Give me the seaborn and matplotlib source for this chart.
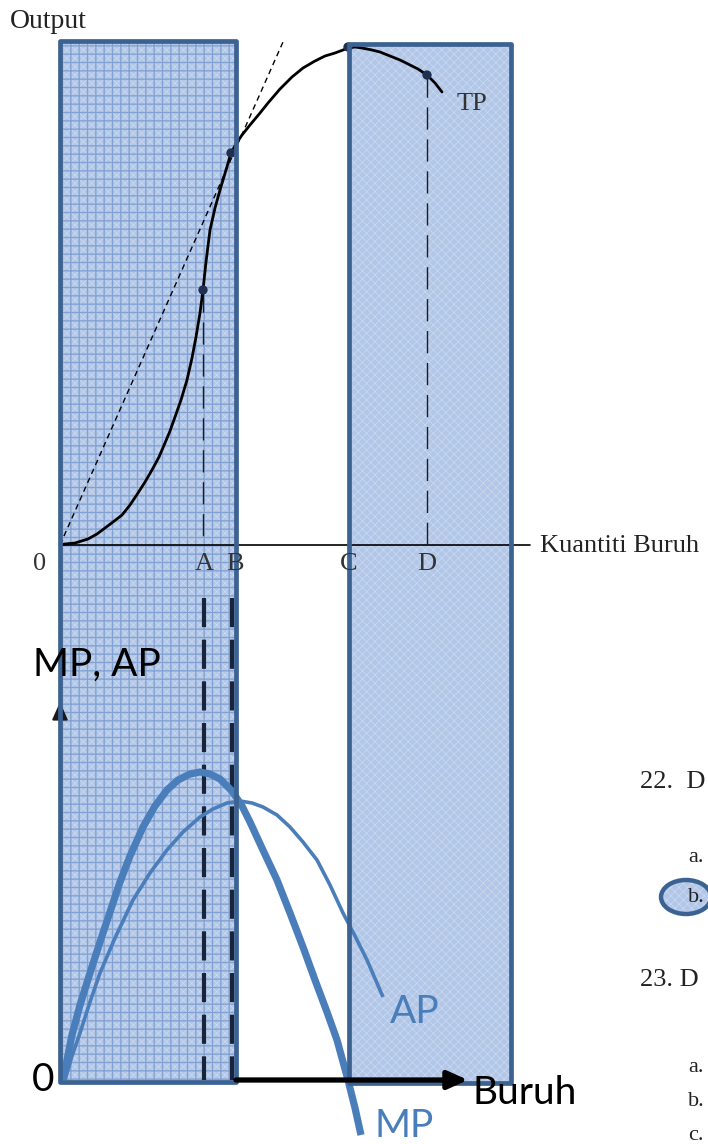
import matplotlib
matplotlib.use("Agg")
import matplotlib.pyplot as plt
import seaborn as sns
from matplotlib.patches import Rectangle, Ellipse

sns.set_theme(style="white")
plt.rcParams['font.family'] = ['Liberation Serif', 'DejaVu Serif']

# --- data (pixel units, y grows downwards) ---
# total product curve
tp_x = [60, 65, 75, 88, 97, 105, 113, 122, 130, 138, 145, 152, 159, 165, 170, 175,
        181, 187, 192, 196, 200, 203, 206, 210, 215, 220, 226, 231, 236, 242, 250,
        260, 268, 280, 292, 303, 315, 325, 335, 343, 348, 355, 362, 372, 380, 390,
        400, 410, 418, 427, 435, 442]
tp_y = [545, 544, 543, 539, 534, 528, 522, 515, 505, 493, 482, 470, 457, 443, 431, 417,
        400, 380, 358, 337, 313, 290, 262, 230, 208, 190, 170, 153, 144, 135, 125,
        113, 103, 89, 77, 68, 61, 56, 53, 50, 48, 47, 48, 50, 52, 56,
        60, 65, 69, 75, 83, 92]
# ray from the origin touching TP at B
ray_x = [60, 283]
ray_y = [545, 42]
# marked points on TP
pt_x = [203, 231, 348, 427]
pt_y = [290, 153, 47, 75]

# marginal product (thick) and average product (thin)
mp_x = [63, 67, 72, 80, 90, 100, 110, 120, 130, 143, 155, 167, 178, 190, 200, 210,
        220, 232, 242, 250, 262, 277, 290, 303, 315, 327, 337, 348, 355, 361]
mp_y = [1080, 1060, 1035, 1005, 973, 942, 912, 882, 856, 827, 806, 790, 780, 774, 772, 774,
        779, 791, 806, 822, 848, 880, 913, 947, 980, 1012, 1040, 1080, 1108, 1135]
ap_x = [65, 72, 80, 90, 100, 115, 133, 150, 167, 183, 200, 213, 227, 240, 252, 263,
        277, 290, 303, 317, 330, 343, 355, 367, 383]
ap_y = [1080, 1056, 1033, 1002, 973, 938, 900, 873, 850, 832, 817, 809, 803, 801, 803, 807,
        815, 827, 842, 860, 885, 913, 936, 960, 997]

top_labels = ["0", "A", "B", "C", "D"]
top_label_x = [40, 204, 235, 349, 427]
drop_x = [203, 427]        # dashed drops in the top panel
drop_top = [290, 75]
lower_drop_x = [204, 232]  # dashed guides in the lower panel

# shaded stages (x0, x1)
stage_left = (60, 236)
stage_right = (349, 511)

edge_blue = "#3c6291"
curve_blue = "#4a7ebb"

fig = plt.figure(figsize=(7.08, 11.44), dpi=100)
ax = fig.add_axes([0, 0, 1, 1])
ax.set_xlim(0, 708)
ax.set_ylim(1144, 0)
ax.axis("off")

# shaded fills
with plt.rc_context({"hatch.linewidth": 0.5}):
    for (x0, x1), y0, y1 in [(stage_left, 41, 1082), (stage_right, 44, 1083)]:
        ax.add_patch(Rectangle((x0, y0), x1 - x0, y1 - y0, facecolor="#b2c7e8",
                               edgecolor="#ccd9ef", hatch="xxxx", linewidth=0, zorder=1))
    ax.add_patch(Ellipse((686, 897), 50, 34, facecolor="#b2c7e8", edgecolor="#ccd9ef",
                         hatch="xxxx", linewidth=0, zorder=1))
with plt.rc_context({"hatch.linewidth": 0.9}):
    x0, x1 = stage_left
    ax.add_patch(Rectangle((x0, 41), x1 - x0, 1041, fill=False, edgecolor="#80a1d2",
                           hatch="++", linewidth=0, zorder=1.1))

# top panel: axis, TP, tangent ray, drops
ax.plot([60, 530], [545, 545], color="black", lw=1.2, zorder=2)
sns.lineplot(x=tp_x, y=tp_y, ax=ax, color="black", lw=2.0, sort=False,
             estimator=None, zorder=3)
ax.lines[-1].set_solid_joinstyle("round")
sns.lineplot(x=ray_x, y=ray_y, ax=ax, color="black", lw=1.0, sort=False,
             estimator=None, zorder=3)
ax.lines[-1].set_dashes([4, 3])
for dx, dt in zip(drop_x, drop_top):
    ax.plot([dx, dx], [dt, 545], color="#1c1c1c", lw=1.0, dashes=[16, 7], zorder=2)
sns.scatterplot(x=pt_x, y=pt_y, ax=ax, color="#1f3050", s=45, edgecolor="none", zorder=4)

# lower panel: dashed guides, MP and AP
for dx in lower_drop_x:
    ax.plot([dx, dx], [598, 1080], color="#17243a", lw=3.0, dashes=[7, 3], zorder=2)
sns.lineplot(x=ap_x, y=ap_y, ax=ax, color=curve_blue, lw=2.6, sort=False,
             estimator=None, zorder=3)
sns.lineplot(x=mp_x, y=mp_y, ax=ax, color=curve_blue, lw=5.2, sort=False,
             estimator=None, zorder=3)
for ln in ax.lines[-2:]:
    ln.set_solid_capstyle("butt")
    ln.set_solid_joinstyle("round")

# y-axis arrow of the lower panel (its stem hides behind the border)
ax.annotate("", xy=(60, 702), xytext=(60, 760),
            arrowprops=dict(arrowstyle="-|>,head_length=0.9,head_width=0.4",
                            color="#1a1a1a", lw=1.5, shrinkA=0, shrinkB=0), zorder=4)

# stage borders
for (x0, x1), y0, y1 in [(stage_left, 41, 1082), (stage_right, 44, 1083)]:
    ax.add_patch(Rectangle((x0, y0), x1 - x0, y1 - y0, fill=False, edgecolor=edge_blue,
                           linewidth=3.4, joinstyle="round", zorder=5))
ax.add_patch(Ellipse((686, 897), 50, 34, fill=False, edgecolor=edge_blue, linewidth=3.2,
                     zorder=5))

# x-axis arrow of the lower panel
ax.annotate("", xy=(468, 1080), xytext=(236, 1080),
            arrowprops=dict(arrowstyle="-|>,head_length=1.0,head_width=0.45",
                            color="black", lw=3.8, shrinkA=0, shrinkB=0), zorder=6)

# serif texts of the top panel
ax.text(10, 22, "Output", fontsize=20, color="#222222", va="center", ha="left")
ax.text(540, 546, "Kuantiti Buruh", fontsize=19, color="#222222", va="center", ha="left")
for lab, lx in zip(top_labels, top_label_x):
    ax.text(lx, 564, lab, fontsize=19, color="#333333", va="center", ha="center", zorder=6)
ax.text(472, 104, "TP", fontsize=19, color="#333333", va="center", ha="center", zorder=6)

# sans texts of the lower panel
sans = ["Lato", "DejaVu Sans"]
ax.text(33, 665, "MP, AP", fontsize=28, family=sans, color="black", va="center", ha="left",
        zorder=6)
ax.text(43, 1080, "0", fontsize=28, family=sans, color="black", va="center", ha="center",
        zorder=6)
ax.text(472, 1093, "Buruh", fontsize=28, family=sans, color="black", va="center",
        ha="left", zorder=6)
ax.text(415, 1012, "AP", fontsize=28, family=sans, color=curve_blue, va="center",
        ha="center", zorder=6)
ax.text(404, 1126, "MP", fontsize=28, family=sans, color=curve_blue, va="center",
        ha="center", zorder=6)

# fragments of the neighbouring page text
side_texts = ["22.  D", "a.", "b.", "23. D", "a.", "b.", "c."]
side_x = [640, 688, 688, 640, 688, 688, 688]
side_y = [782, 857, 897, 980, 1068, 1102, 1136]
for t, sx, sy in zip(side_texts, side_x, side_y):
    ax.text(sx, sy, t, fontsize=19 if t[0].isdigit() else 16, color="#222222",
            va="center", ha="left", zorder=6)

fig.savefig("out.png", dpi=100)
